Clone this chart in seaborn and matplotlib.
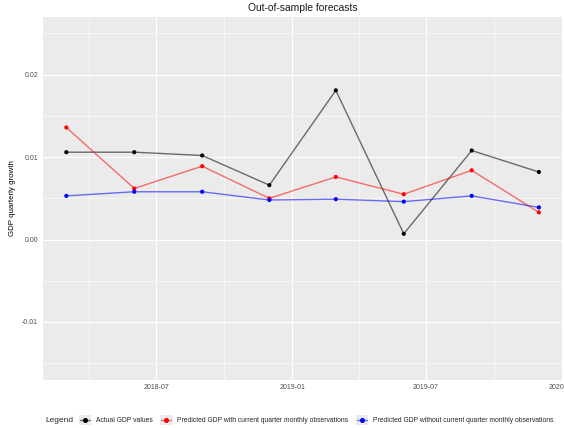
import matplotlib
matplotlib.use("Agg")
import matplotlib.pyplot as plt
import matplotlib.dates as mdates
from matplotlib.lines import Line2D
from matplotlib.patches import Rectangle
from matplotlib.legend_handler import HandlerBase
from matplotlib.ticker import FixedLocator
import numpy as np
import pandas as pd
import seaborn as sns

# Quarterly observation dates
dates = ["2018-03-01", "2018-06-01", "2018-09-01", "2018-12-01",
         "2019-03-01", "2019-06-01", "2019-09-01", "2019-12-01"]

actual_gdp = [0.0106, 0.0106, 0.0102, 0.0066, 0.0181, 0.0007, 0.0108, 0.0082]
pred_with_current = [0.0136, 0.0062, 0.0089, 0.0050, 0.0076, 0.0055, 0.0084, 0.0033]
pred_without_current = [0.0053, 0.0058, 0.0058, 0.0048, 0.0049, 0.0046, 0.0053, 0.0039]

series_names = ["Actual GDP values",
                "Predicted GDP with current quarter monthly observations",
                "Predicted GDP without current quarter monthly observations"]
series_colors = ["black", "red", "blue"]

x_ticks = ["2018-07-01", "2019-01-01", "2019-07-01", "2020-01-01"]
x_tick_labels = ["2018-07", "2019-01", "2019-07", "2020-01"]
x_minor = ["2018-04-01", "2018-10-01", "2019-04-01", "2019-10-01"]
y_ticks = [-0.01, 0.00, 0.01, 0.02]
y_tick_labels = ["-0.01", "0.00", "0.01", "0.02"]

df = pd.DataFrame({
    "date": np.tile(pd.to_datetime(dates), 3),
    "value": actual_gdp + pred_with_current + pred_without_current,
    "series": np.repeat(series_names, len(dates)),
})
palette = dict(zip(series_names, series_colors))

sns.set_theme(style="darkgrid")
plt.rcParams["font.family"] = ["Liberation Sans", "DejaVu Sans"]
plt.rcParams["axes.facecolor"] = "#EBEBEB"

fig = plt.figure(figsize=(5.64, 4.28), dpi=100)
ax = fig.add_axes([42.7 / 564, 1 - 379.7 / 428, (562.5 - 42.7) / 564, (379.7 - 17) / 428])
ax.set_facecolor("#EBEBEB")

sns.lineplot(data=df, x="date", y="value", hue="series", palette=palette,
             alpha=0.55, linewidth=1.0, legend=False, ax=ax, zorder=3)
sns.scatterplot(data=df, x="date", y="value", hue="series", palette=palette,
                s=9, linewidth=0, legend=False, ax=ax, zorder=4)

d0 = pd.Timestamp(dates[0]) - pd.Timedelta(days=32)
d1 = pd.Timestamp(dates[-1]) + pd.Timedelta(days=32)
ax.set_xlim(d0, d1)
ax.set_ylim(-0.017, 0.027)

ax.set_xticks(pd.to_datetime(x_ticks))
ax.set_xticklabels(x_tick_labels)
ax.xaxis.set_minor_locator(FixedLocator(mdates.date2num(pd.to_datetime(x_minor))))
ax.set_yticks(y_ticks)
ax.set_yticklabels(y_tick_labels)
ax.yaxis.set_minor_locator(FixedLocator([-0.015, -0.005, 0.005, 0.015, 0.025]))

ax.grid(which="major", color="white", linewidth=0.8)
ax.grid(which="minor", color="white", linewidth=0.4)
for s in ax.spines.values():
    s.set_visible(False)

ax.tick_params(axis="both", which="major", length=1.8, width=0.5, color="#333333",
               labelsize=5, labelcolor="#4D4D4D", pad=1.5)
ax.tick_params(axis="both", which="minor", length=0)

ax.set_xlabel("")
ax.set_ylabel("GDP quarterly growth", fontsize=5.7, color="black")
ax.yaxis.set_label_coords(-(42.7 - 16) / 519.8, 0.5)
ax.set_title("Out-of-sample forecasts", fontsize=7.4, color="#1A1A1A", pad=4)


class KeyHandler(HandlerBase):
    """Legend key: grey square with a translucent line and a solid point."""

    def __init__(self, color):
        super().__init__()
        self.color = color

    def create_artists(self, legend, orig_handle, xdescent, ydescent,
                       width, height, fontsize, trans):
        bg = Rectangle((-xdescent, -ydescent), width, height,
                       facecolor="#EBEBEB", edgecolor="none", transform=trans)
        y = -ydescent + height / 2
        ln = Line2D([-xdescent + 1, -xdescent + width - 1], [y, y],
                    color=self.color, alpha=0.55, lw=1.0, transform=trans)
        pt = Line2D([-xdescent + width / 2], [y], color=self.color, marker="o",
                    markersize=2.6, lw=0, transform=trans)
        return [bg, ln, pt]


handles = [Line2D([], [], color=c) for c in series_colors]
handler_map = {h: KeyHandler(c) for h, c in zip(handles, series_colors)}

fig.text(45 / 564, 1 - 420 / 428, "Legend", fontsize=6, va="center", ha="left")
fs = 4.9
key_px = 12.5
px_per_fs = fs * 100 / 72
fig.legend(handles, series_names, handler_map=handler_map, ncol=3,
           loc="center left", bbox_to_anchor=(78.7 / 564, 1 - 420 / 428),
           frameon=False, fontsize=fs, borderpad=0, borderaxespad=0,
           handlelength=key_px / px_per_fs, handleheight=key_px / px_per_fs,
           handletextpad=4.6 / px_per_fs, columnspacing=7.5 / px_per_fs)

fig.savefig("out.png", dpi=100)
